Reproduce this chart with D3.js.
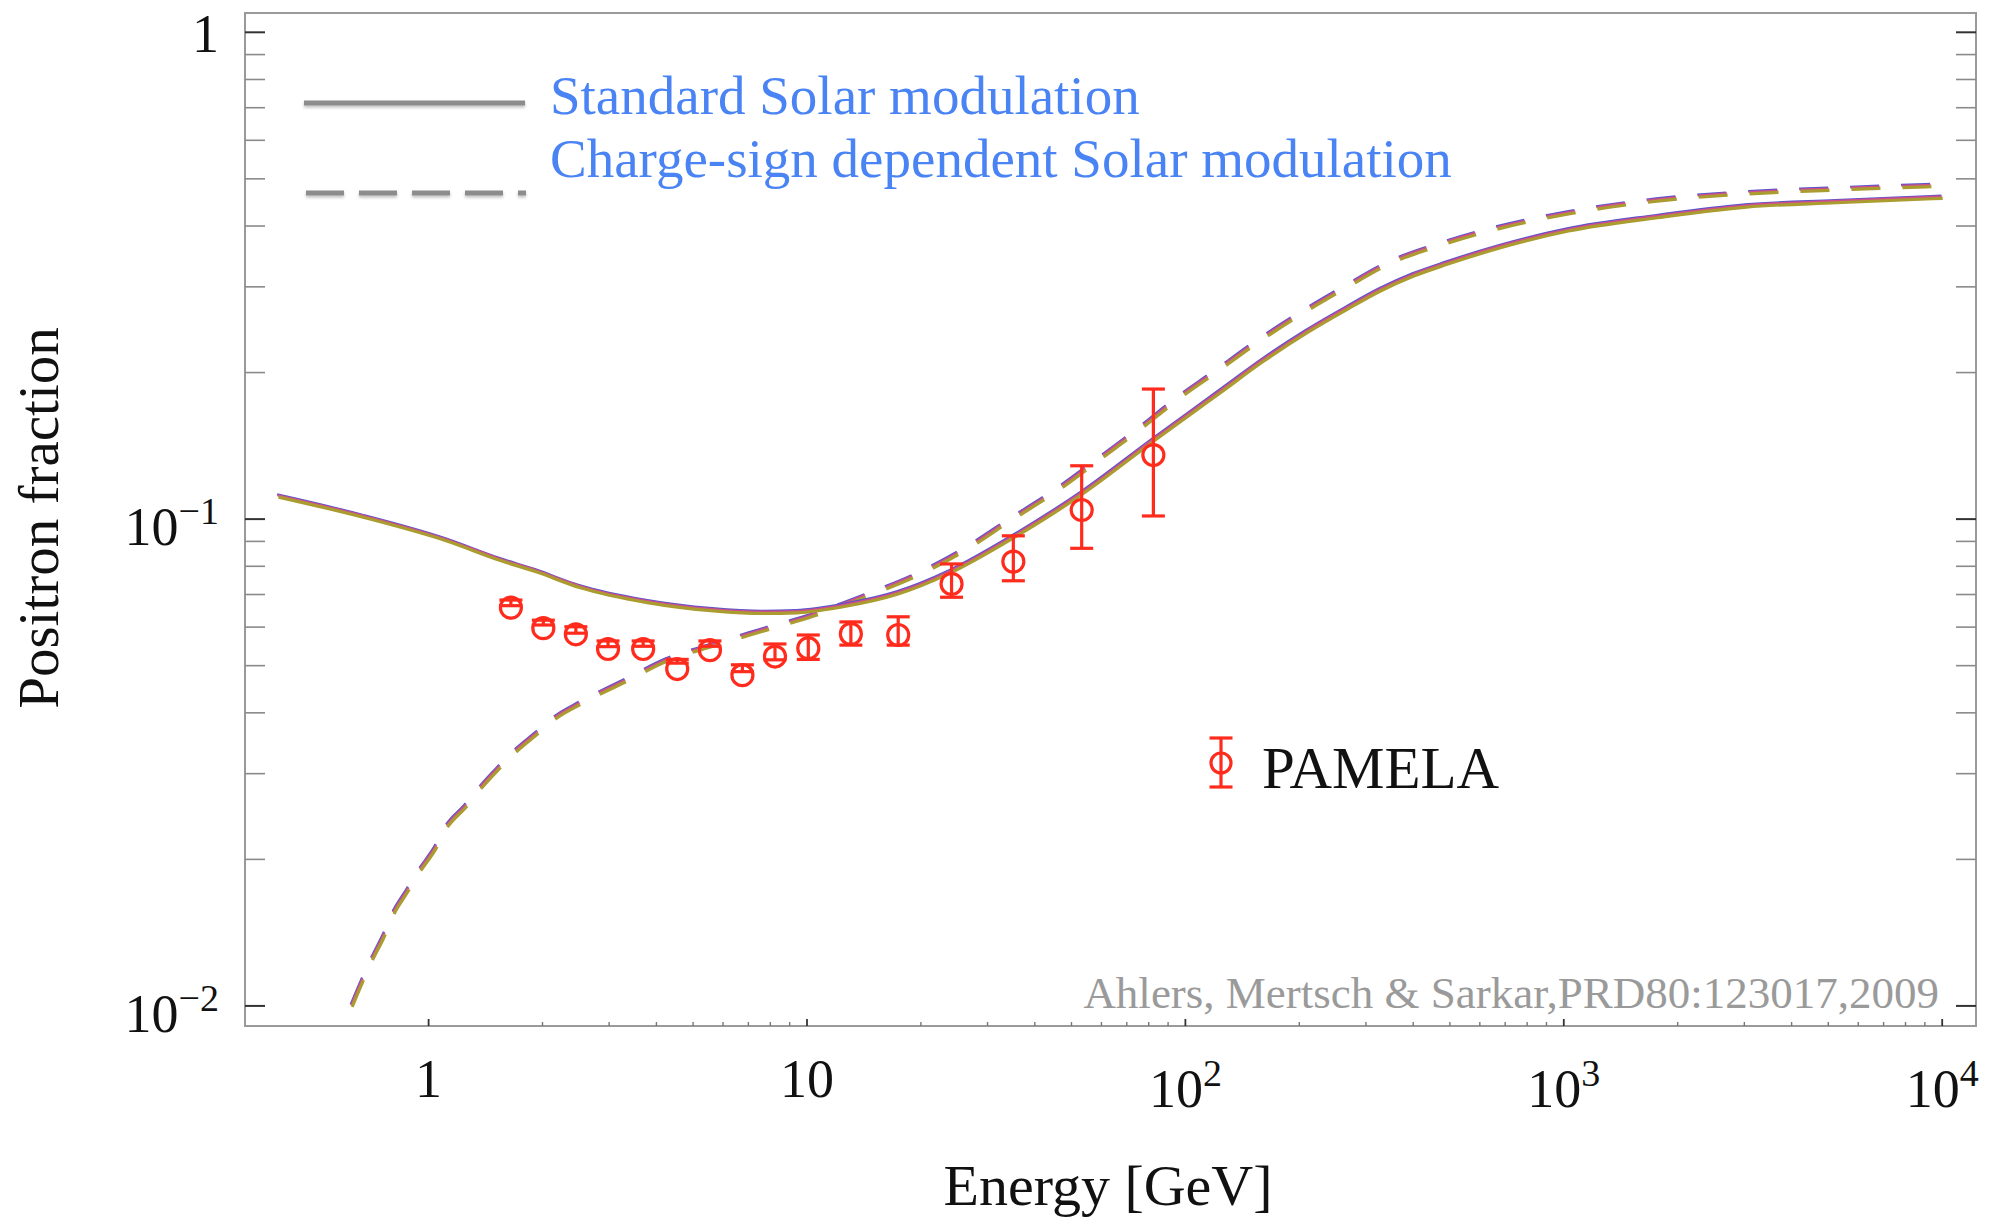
<!DOCTYPE html>
<html>
<head>
<meta charset="utf-8">
<script src="https://cdn.jsdelivr.net/npm/d3@7"></script>
<style>
  html, body { margin: 0; padding: 0; background: #fff; }
  svg { display: block; }
  text { font-family: "Liberation Serif", "Times New Roman", serif; }
</style>
</head>
<body>
<svg id="chart" width="1999" height="1219"></svg>
<script>
// Model curves: positron fraction vs energy [GeV]
const solidEnergy = [0.4, 0.665, 1.114, 1.544, 1.919, 2.512, 3.771, 5.643, 7.651, 9.394, 12.73, 17.27, 23.87, 35.1, 53.2, 82.3, 123.4, 160.7, 209.2, 266.9, 326.8, 400.2, 490.4, 678.5, 1026, 1763, 3030, 5240, 10000];
const solidFraction = [0.1115, 0.1015, 0.0906, 0.0826, 0.0783, 0.0726, 0.0677, 0.0651, 0.0643, 0.0645, 0.0666, 0.0704, 0.0779, 0.0920, 0.1130, 0.1454, 0.1827, 0.2122, 0.2427, 0.2710, 0.2955, 0.3172, 0.3353, 0.3627, 0.3925, 0.4180, 0.4396, 0.4487, 0.4581];

const dashedEnergy = [0.626, 0.666, 0.707, 0.759, 0.807, 0.875, 0.949, 1.040, 1.116, 1.248, 1.367, 1.528, 1.709, 1.931, 2.181, 2.512, 3.338, 4.258, 5.654, 7.665, 10.39, 14.09, 19.89, 26.42, 34.40, 45.70, 59.48, 75.86, 96.76, 118.5, 152.7, 198.8, 261.5, 343.8, 465.9, 625.5, 1026, 1763, 3030, 5240, 10000];
const dashedFraction = [0.0100, 0.01121, 0.01243, 0.01387, 0.01550, 0.01716, 0.01901, 0.02107, 0.02334, 0.02566, 0.02799, 0.03076, 0.03354, 0.03631, 0.03927, 0.04183, 0.04671, 0.05135, 0.05512, 0.05920, 0.06353, 0.06930, 0.07737, 0.08710, 0.09957, 0.1147, 0.1333, 0.1536, 0.1784, 0.1993, 0.2297, 0.2626, 0.2979, 0.3353, 0.3657, 0.3912, 0.4254, 0.4521, 0.4676, 0.4765, 0.4850];

// PAMELA measurements with error bars
const pamelaEnergy = [1.65, 2.01, 2.45, 2.98, 3.69, 4.54, 5.54, 6.75, 8.23, 10.08, 13.06, 17.42, 24.1, 35.1, 53.2, 82.3];
const pamelaFraction = [0.0658, 0.0597, 0.0580, 0.0541, 0.0541, 0.0492, 0.0538, 0.0478, 0.0522, 0.0543, 0.0581, 0.0578, 0.0736, 0.0818, 0.1044, 0.1354];
const pamelaHigh = [0.0682, 0.0620, 0.0601, 0.0562, 0.0562, 0.0515, 0.0562, 0.0502, 0.0554, 0.0578, 0.0615, 0.0630, 0.0809, 0.0924, 0.1287, 0.185];
const pamelaLow = [0.0664, 0.0606, 0.0583, 0.0547, 0.0548, 0.0506, 0.0548, 0.0486, 0.0514, 0.0515, 0.0551, 0.0551, 0.0691, 0.0747, 0.0871, 0.1015];

// Tick labels
const xTickValues = [1, 10, 100, 1000, 10000];
const xTickBase = ["1", "10", "10", "10", "10"];
const xTickExp = ["", "", "2", "3", "4"];
const yTickValues = [0.01, 0.1, 1];
const yTickBase = ["10", "10", "1"];
const yTickExp = ["\u22122", "\u22121", ""];

const legendLabels = ["Standard Solar modulation", "Charge-sign dependent Solar modulation"];
const credit = "Ahlers, Mertsch & Sarkar,PRD80:123017,2009";

// ---------------------------------------------------------------------------
const svg = d3.select("#chart");
const W = 1999, H = 1219;
const plot = { left: 245, right: 1976, top: 13, bottom: 1026 };

svg.append("rect").attr("width", W).attr("height", H).attr("fill", "#fff");

const x = d3.scaleLog().domain([0.3272, 12284]).range([plot.left, plot.right]);
const y = d3.scaleLog().domain([0.009094, 1.0956]).range([plot.bottom, plot.top]);

const defs = svg.append("defs");
defs.append("clipPath").attr("id", "plotClip")
  .append("rect")
  .attr("x", plot.left).attr("y", plot.top)
  .attr("width", plot.right - plot.left).attr("height", plot.bottom - plot.top);
const shadow = defs.append("filter").attr("id", "soft")
  .attr("filterUnits", "userSpaceOnUse")
  .attr("x", 0).attr("y", 0).attr("width", W).attr("height", H);
shadow.append("feDropShadow").attr("dx", 0).attr("dy", 2).attr("stdDeviation", 1.6)
  .attr("flood-color", "#000").attr("flood-opacity", 0.25);

// Frame
svg.append("rect")
  .attr("x", plot.left).attr("y", plot.top)
  .attr("width", plot.right - plot.left).attr("height", plot.bottom - plot.top)
  .attr("fill", "none").attr("stroke", "#9a9a9a").attr("stroke-width", 2);

// Tick positions (decades + minor 2..9)
const yMinor = [];
[0.01, 0.1].forEach(d => { for (let k = 2; k <= 9; k++) yMinor.push(d * k); });
const xMinor = [];
[1, 10, 100, 1000].forEach(d => { for (let k = 2; k <= 9; k++) xMinor.push(d * k); });

const ticks = svg.append("g");
// left and right y ticks
[[plot.left, 1], [plot.right, -1]].forEach(([x0, dir]) => {
  ticks.selectAll(null).data(yMinor).enter().append("line")
    .attr("x1", x0).attr("x2", x0 + dir * 20)
    .attr("y1", d => y(d)).attr("y2", d => y(d))
    .attr("stroke", "#8a8a8a").attr("stroke-width", 1.6);
  ticks.selectAll(null).data(yTickValues).enter().append("line")
    .attr("x1", x0).attr("x2", x0 + dir * 20)
    .attr("y1", d => y(d)).attr("y2", d => y(d))
    .attr("stroke", "#333").attr("stroke-width", 2);
});
// bottom x ticks
ticks.selectAll(null).data(xMinor).enter().append("line")
  .attr("x1", d => x(d)).attr("x2", d => x(d))
  .attr("y1", plot.bottom).attr("y2", plot.bottom - 4)
  .attr("stroke", "#777").attr("stroke-width", 1.4);
ticks.selectAll(null).data(xTickValues).enter().append("line")
  .attr("x1", d => x(d)).attr("x2", d => x(d))
  .attr("y1", plot.bottom).attr("y2", plot.bottom - 7)
  .attr("stroke", "#333").attr("stroke-width", 1.8);

// Tick labels
const xl = svg.append("g").attr("fill", "#111");
xTickValues.forEach((v, i) => {
  const t = xl.append("text")
    .attr("x", x(v))
    .attr("y", xTickExp[i] ? 1107 : 1097)
    .attr("text-anchor", "middle")
    .attr("font-size", 54);
  t.append("tspan").text(xTickBase[i]);
  if (xTickExp[i]) t.append("tspan").attr("dy", -21).attr("font-size", 38).text(xTickExp[i]);
});
const yl = svg.append("g").attr("fill", "#111");
yTickValues.forEach((v, i) => {
  const t = yl.append("text")
    .attr("x", 219)
    .attr("y", y(v) + (yTickExp[i] ? 26 : 20))
    .attr("text-anchor", "end")
    .attr("font-size", 54);
  t.append("tspan").text(yTickBase[i]);
  if (yTickExp[i]) t.append("tspan").attr("dy", -21).attr("font-size", 38).text(yTickExp[i]);
});

// Axis titles
svg.append("text")
  .attr("x", 1108).attr("y", 1205)
  .attr("text-anchor", "middle").attr("font-size", 58).attr("fill", "#111")
  .text("Energy [GeV]");
svg.append("text")
  .attr("transform", "translate(58,518) rotate(-90)")
  .attr("text-anchor", "middle").attr("font-size", 57).attr("fill", "#111")
  .text("Positron fraction");

// Model curves: three overlapping propagation variants drawn per modulation scheme
const line = d3.line().x(d => x(d[0])).y(d => y(d[1])).curve(d3.curveMonotoneX);
const solidData = solidEnergy.map((e, i) => [e, solidFraction[i]]);
const dashedData = dashedEnergy.map((e, i) => [e, dashedFraction[i]]);
const variants = [
  { color: "#5a55c8", dx: -0.9, dy: -1.7, w: 2.2 },
  { color: "#cf4f8c", dx: -0.3, dy: -0.7, w: 2.4 },
  { color: "#ab9c30", dx: 0.5, dy: 1.0, w: 3.2 }
];
const curves = svg.append("g").attr("clip-path", "url(#plotClip)");
variants.forEach(v => {
  curves.append("path").datum(dashedData)
    .attr("d", line).attr("transform", `translate(${v.dx},${v.dy})`)
    .attr("fill", "none").attr("stroke", v.color).attr("stroke-width", v.w)
    .attr("stroke-dasharray", "29,22");
});
variants.forEach(v => {
  curves.append("path").datum(solidData)
    .attr("d", line).attr("transform", `translate(${v.dx},${v.dy})`)
    .attr("fill", "none").attr("stroke", v.color).attr("stroke-width", v.w);
});

// PAMELA data
const red = "#ff2b1c";
const pts = svg.append("g").attr("stroke", red).attr("stroke-width", 3.2).attr("fill", "none");
const capHalf = 11.5;
pamelaEnergy.forEach((e, i) => {
  const cx = x(e);
  const yh = y(pamelaHigh[i]), ylo = y(pamelaLow[i]);
  pts.append("line").attr("x1", cx).attr("x2", cx).attr("y1", yh).attr("y2", ylo);
  pts.append("line").attr("x1", cx - capHalf).attr("x2", cx + capHalf).attr("y1", yh).attr("y2", yh);
  pts.append("line").attr("x1", cx - capHalf).attr("x2", cx + capHalf).attr("y1", ylo).attr("y2", ylo);
  pts.append("circle").attr("cx", cx).attr("cy", y(pamelaFraction[i])).attr("r", 10.5);
});

// Legend: model line styles
const lg = svg.append("g");
lg.append("line").attr("x1", 304).attr("x2", 525).attr("y1", 103).attr("y2", 103)
  .attr("stroke", "#8c8c8c").attr("stroke-width", 5).attr("filter", "url(#soft)");
lg.append("line").attr("x1", 306).attr("x2", 526).attr("y1", 193).attr("y2", 193)
  .attr("stroke", "#8c8c8c").attr("stroke-width", 5).attr("stroke-dasharray", "38,15")
  .attr("filter", "url(#soft)");
lg.selectAll(null).data(legendLabels).enter().append("text")
  .attr("x", 550).attr("y", (d, i) => [114, 177][i])
  .attr("font-size", 55).attr("fill", "#4a84f4")
  .text(d => d);

// Legend: PAMELA marker
const pl = svg.append("g").attr("stroke", red).attr("stroke-width", 3.2).attr("fill", "none");
pl.append("line").attr("x1", 1221).attr("x2", 1221).attr("y1", 738).attr("y2", 787);
pl.append("line").attr("x1", 1221 - capHalf).attr("x2", 1221 + capHalf).attr("y1", 738).attr("y2", 738);
pl.append("line").attr("x1", 1221 - capHalf).attr("x2", 1221 + capHalf).attr("y1", 787).attr("y2", 787);
pl.append("circle").attr("cx", 1221).attr("cy", 763).attr("r", 10);
svg.append("text").attr("x", 1262).attr("y", 788)
  .attr("font-size", 59).attr("fill", "#111").text("PAMELA");

// Credit line
svg.append("text").attr("x", 1939).attr("y", 1008)
  .attr("text-anchor", "end").attr("font-size", 45).attr("fill", "#9a9a9a")
  .text(credit);
</script>
</body>
</html>
